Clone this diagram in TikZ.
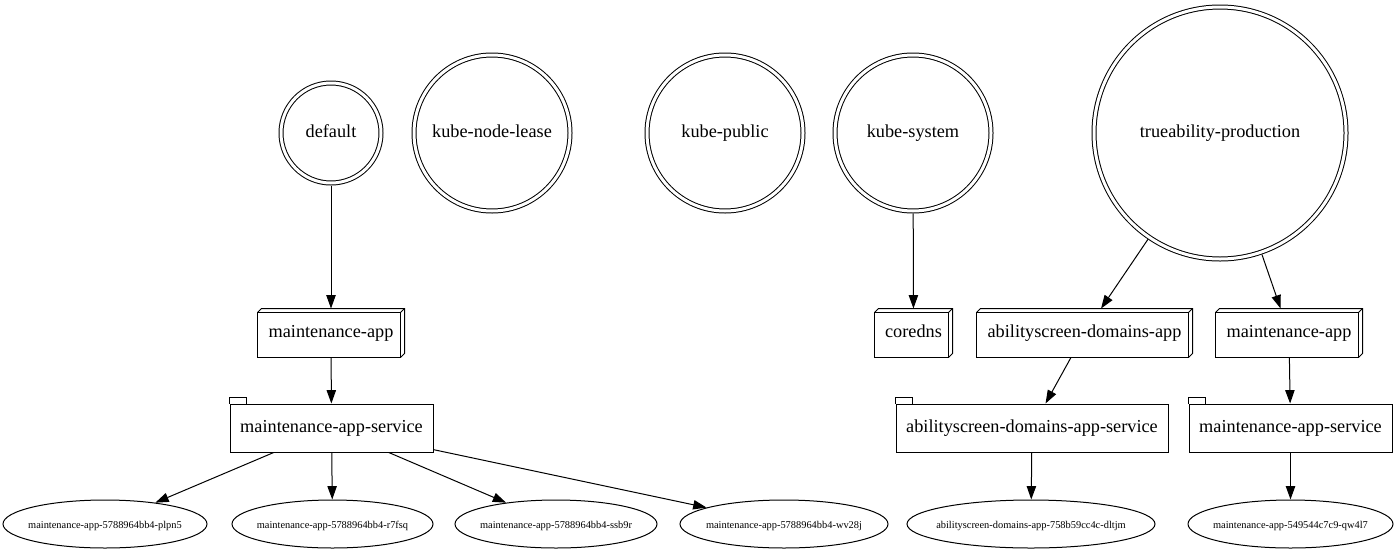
\documentclass[tikz,border=0pt]{standalone}
\usepackage{fontspec}
\setmainfont{Liberation Serif}
\usetikzlibrary{shapes.geometric,arrows.meta,calc}
\newcommand{\podtext}[1]{\makebox[0pt][c]{#1}}
\begin{document}
\begin{tikzpicture}[x=0.75pt,y=-0.75pt, line width=0.75pt,
  every node/.style={font=\fontsize{13.7}{16}\selectfont, text height=0.7em, text depth=0pt},
  nsnode/.style={circle, draw, double, double distance=2.25pt, inner sep=0pt,
    minimum size=(2*#1-4)*0.75pt, outer sep=1.9pt},
  boxthree/.style={rectangle, minimum width=#1*0.75pt, minimum height=36pt, inner sep=0pt},
  tabnode/.style={rectangle, draw, minimum width=#1*0.75pt, minimum height=36pt, inner sep=0pt},
  pod/.style={ellipse, draw, minimum width=#1*0.75pt, minimum height=36pt, inner sep=0pt,
    font=\fontsize{7.8}{9}\selectfont},
  arr/.style={-{Triangle[length=10pt,width=7pt]}}
]
\useasboundingbox (0,0) rectangle (1399,554);

% namespaces
\node[nsnode=52]  (def)  at (331,133)  {default};
\node[nsnode=80]  (knl)  at (492,133)  {kube-node-lease};
\node[nsnode=80]  (kpub) at (725,133)  {kube-public};
\node[nsnode=80]  (ksys) at (913,133)  {kube-system};
\node[nsnode=128] (tp)   at (1220,133) {trueability-production};

% deployments
\node[boxthree=146] (ma1)  at (331,333)    {maintenance-app};
\node[boxthree=77]  (cdns) at (913.5,333)  {coredns};
\node[boxthree=215] (ab)   at (1084.5,333) {abilityscreen-domains-app};
\node[boxthree=146] (ma2)  at (1289,333)   {maintenance-app};

\foreach \n in {ma1,cdns,ab,ma2}{
  \draw ($(\n.north west)+(0,4)$) rectangle ($(\n.south east)+(-4,0)$);
  \draw ($(\n.north west)+(0,4)$) -- ($(\n.north west)+(4,0)$) -- (\n.north east)
        -- ($(\n.south east)+(0,-4)$) -- ($(\n.south east)+(-4,0)$);
  \draw ($(\n.north east)+(-4,4)$) -- (\n.north east);
}

% services
\node[tabnode=203] (svc1) at (331.5,428)  {maintenance-app-service};
\node[tabnode=272] (abs)  at (1032,428)   {abilityscreen-domains-app-service};
\node[tabnode=203] (svc2) at (1290.5,428) {maintenance-app-service};

\foreach \n in {svc1,abs,svc2}{
  \draw (\n.north west) -- ++(0,-6) -- ++(17,0) -- ++(0,6);
}

% pods
\node[pod=204] (p1) at (105,524)    {\podtext{maintenance-app-5788964bb4-plpn5}};
\node[pod=201] (p2) at (332.5,524)  {\podtext{maintenance-app-5788964bb4-r7fsq}};
\node[pod=202] (p3) at (556,524)    {\podtext{maintenance-app-5788964bb4-ssb9r}};
\node[pod=208] (p4) at (784,524)    {\podtext{maintenance-app-5788964bb4-wv28j}};
\node[pod=248] (p5) at (1031,524)   {\podtext{abilityscreen-domains-app-758b59cc4c-dltjm}};
\node[pod=205] (p6) at (1290.5,524) {\podtext{maintenance-app-549544c7c9-qw4l7}};

% edges
\draw[arr] (def) -- (ma1);
\draw[arr] (ma1) -- (svc1);
\draw[arr] (svc1) -- (p1);
\draw[arr] (svc1) -- (p2);
\draw[arr] (svc1) -- (p3);
\draw[arr] (svc1) -- (p4);
\draw[arr] (ksys) -- (cdns);
\draw[arr] (tp) -- (ab);
\draw[arr] (tp) -- (ma2);
\draw[arr] (ab) -- (abs);
\draw[arr] (ma2) -- (svc2);
\draw[arr] (abs) -- (p5);
\draw[arr] (svc2) -- (p6);
\end{tikzpicture}
\end{document}
